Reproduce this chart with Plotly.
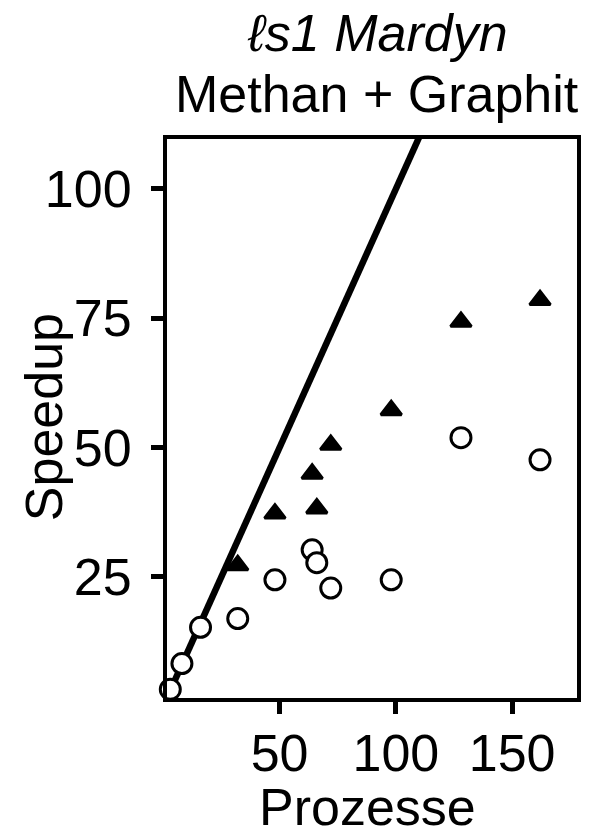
import plotly.graph_objects as go

# Data
circ_x = [3, 8, 16, 32, 48, 64, 66, 72, 98, 128, 162]
circ_y = [3.2, 8.2, 15.2, 16.9, 24.4, 30.2, 27.7, 22.8, 24.4, 51.9, 47.6]
tri_x = [32, 48, 64, 66, 72, 98, 128, 162]
tri_y = [27.2, 37.2, 44.9, 38.2, 50.5, 57.2, 74.3, 78.5]
ideal_x = [0, 200]
ideal_y = [0, 200]
x_ticks = [50, 100, 150]
y_ticks = [25, 50, 75, 100]

FONT = "Liberation Sans, Arial, sans-serif"
OFF = 8  # default page body margin
W, H = 593 - OFF, 836 - OFF
# plot area in page pixels: x 167..581, y 139..698
L, R, T, B = 167 - OFF, 593 - 581, 139 - OFF, 836 - 698
pw, ph = W - L - R, H - T - B

fig = go.Figure()
fig.add_trace(go.Scatter(x=ideal_x, y=ideal_y, mode="lines",
                         line=dict(color="black", width=6.5), showlegend=False,
                         hoverinfo="skip"))
fig.add_trace(go.Scatter(x=circ_x, y=circ_y, mode="markers",
                         marker=dict(symbol="circle", size=20, color="white",
                                     line=dict(color="black", width=3)),
                         cliponaxis=False, showlegend=False))
fig.add_trace(go.Scatter(x=tri_x, y=tri_y, mode="markers",
                         marker=dict(symbol="triangle-up", size=18, color="black",
                                     line=dict(color="black", width=3)),
                         cliponaxis=False, showlegend=False))

axis_common = dict(showline=True, mirror=True, linecolor="black", linewidth=4,
                   ticks="outside", ticklen=12, tickwidth=5, tickcolor="black",
                   showgrid=False, zeroline=False,
                   tickfont=dict(family=FONT, size=52, color="black"))

fig.update_xaxes(range=[1.58, 177.9], tickvals=x_ticks, ticklabelstandoff=-5, **axis_common)
fig.update_yaxes(range=[1.53, 109.67], tickvals=y_ticks, ticklabelstandoff=9, **axis_common)

def px2paper_x(px):
    return (px - OFF - L) / pw

def px2paper_y(py):
    return (H - B - (py - OFF)) / ph

annotations = [
    dict(text="<i>ℓs1 Mardyn</i>", x=px2paper_x(380), y=px2paper_y(33),
         xref="paper", yref="paper", xanchor="center", yanchor="middle",
         showarrow=False, font=dict(family=FONT, size=52, color="black")),
    dict(text="Methan + Graphit", x=px2paper_x(379), y=px2paper_y(94),
         xref="paper", yref="paper", xanchor="center", yanchor="middle",
         showarrow=False, font=dict(family=FONT, size=52, color="black")),
    dict(text="Prozesse", x=px2paper_x(369), y=px2paper_y(807),
         xref="paper", yref="paper", xanchor="center", yanchor="middle",
         showarrow=False, font=dict(family=FONT, size=52, color="black")),
    dict(text="Speedup", x=px2paper_x(43), y=px2paper_y(417), textangle=-90,
         xref="paper", yref="paper", xanchor="center", yanchor="middle",
         showarrow=False, font=dict(family=FONT, size=52, color="black")),
]

fig.update_layout(width=W, height=H, margin=dict(l=L, r=R, t=T, b=B),
                  paper_bgcolor="white", plot_bgcolor="white",
                  annotations=annotations, showlegend=False)

fig.write_html("out.html")
